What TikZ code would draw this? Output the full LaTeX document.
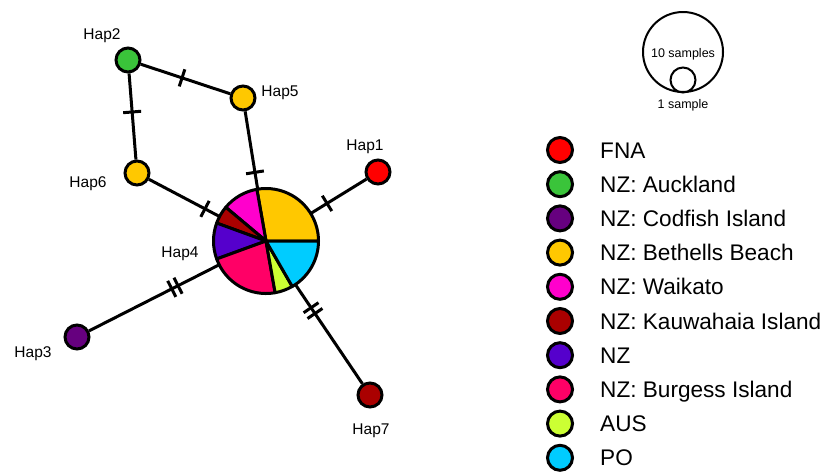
\documentclass[tikz,border=0pt]{standalone}
\usepackage{fontspec}
\setmainfont{Liberation Sans}
\definecolor{cFNA}{HTML}{FF0000}
\definecolor{cAuck}{HTML}{3AC43A}
\definecolor{cCod}{HTML}{66007F}
\definecolor{cBeth}{HTML}{FFC800}
\definecolor{cWai}{HTML}{FF00CC}
\definecolor{cKau}{HTML}{AA0000}
\definecolor{cNZ}{HTML}{5500CC}
\definecolor{cBur}{HTML}{FF0066}
\definecolor{cAus}{HTML}{CCFF33}
\definecolor{cPO}{HTML}{00CCFF}
\newcommand{\tk}{\rule[-9pt]{3pt}{18pt}}
\newcommand{\tktk}{\tk\hspace{4pt}\tk}
\begin{document}
\begin{tikzpicture}[x=1pt,y=-1pt,
  hap/.style={circle, draw=black, line width=3pt, minimum size=24pt, inner sep=0pt},
  lab/.style={font=\fontsize{15.5}{18}\selectfont, anchor=base, inner sep=0pt},
  edge/.style={line width=3pt},
  tickmark/.style={sloped, inner sep=0pt, outer sep=0pt},
  slice/.style={draw=black, line width=3pt, line join=round},
  leg/.style={circle, draw=black, line width=3pt, minimum size=25pt, inner sep=0pt},
  legtext/.style={font=\fontsize{22.6}{26}\selectfont, anchor=base west, inner sep=0pt},
  scalecirc/.style={circle, draw=black, line width=2pt, inner sep=0pt},
  scaletext/.style={font=\fontsize{12.5}{15}\selectfont, anchor=base, inner sep=0pt}]
\useasboundingbox (0,0) rectangle (826,472);

% haplotype nodes
\node[hap, fill=cFNA]  (hap1) at (378,172) {};
\node[hap, fill=cAuck] (hap2) at (128,60) {};
\node[hap, fill=cCod]  (hap3) at (77,337) {};
\node[circle, minimum size=105pt, inner sep=0pt] (hap4) at (266,241) {};
\node[hap, fill=cBeth] (hap5) at (243,98) {};
\node[hap, fill=cBeth] (hap6) at (137,173) {};
\node[hap, fill=cKau]  (hap7) at (370,395) {};

% connectors
\draw[edge] (hap1) -- (hap4);
\draw[edge] (hap3) -- (hap4);
\draw[edge] (hap5) -- (hap4);
\draw[edge] (hap6) -- (hap4);
\draw[edge] (hap7) -- (hap4);
\draw[edge] (hap2) -- (hap5);
\draw[edge] (hap2) -- (hap6);

% mutation ticks
\path (hap1.center) -- (hap4.center) node[tickmark, pos=0.455] (m1) {\tk};
\path (hap5.center) -- (hap4.center) node[tickmark, pos=0.52] (m5) {\tk};
\path (hap6.center) -- (hap4.center) node[tickmark, pos=0.527] (m6) {\tk};
\path (hap3.center) -- (hap4.center) node[tickmark, pos=0.518] (m3) {\tktk};
\path (hap7.center) -- (hap4.center) node[tickmark, pos=0.548] (m7) {\tktk};
\path (hap2.center) -- (hap5.center) node[tickmark, pos=0.47] (m25) {\tk};
\path (hap2.center) -- (hap6.center) node[tickmark, pos=0.46] (m26) {\tk};

% pie chart of Hap4
\begin{scope}[shift={(hap4.center)}]
\foreach \a/\b/\c in {0/100/cBeth, 100/140/cWai, 140/160/cKau, 160/200/cNZ, 200/280/cBur, 280/300/cAus, 300/360/cPO}
  \filldraw[slice, fill=\c] (0,0) -- (-\a:52.5) arc[start angle=-\a, end angle=-\b, radius=52.5] -- cycle;
\end{scope}

% labels
\node[lab] (l1) at (365,150.5) {Hap1};
\node[lab] (l2) at (102,39.5) {Hap2};
\node[lab] (l3) at (33,357.5) {Hap3};
\node[lab] (l4) at (180,257.5) {Hap4};
\node[lab] (l5) at (280,96.5) {Hap5};
\node[lab] (l6) at (88,187.5) {Hap6};
\node[lab] (l7) at (371,434.5) {Hap7};

% scale
\node[scalecirc, minimum size=80pt] (big) at (683,52) {};
\node[scalecirc, minimum size=25pt] (small) at (683,80) {};
\node[scaletext] (st10) at (683,57.5) {10 samples};
\node[scaletext] (st1) at (683,108) {1 sample};

% legend
\foreach \c/\t [count=\i from 0] in {cFNA/FNA, cAuck/NZ: Auckland, cCod/NZ: Codfish Island, cBeth/NZ: Bethells Beach, cWai/NZ: Waikato, cKau/NZ: Kauwahaia Island, cNZ/NZ, cBur/NZ: Burgess Island, cAus/AUS, cPO/PO} {
  \node[leg, fill=\c] (lc\i) at (560,{150+34.2*\i}) {};
  \node[legtext] (lt\i) at (600,{158.1+34.2*\i}) {\t};
}
\end{tikzpicture}
\end{document}
